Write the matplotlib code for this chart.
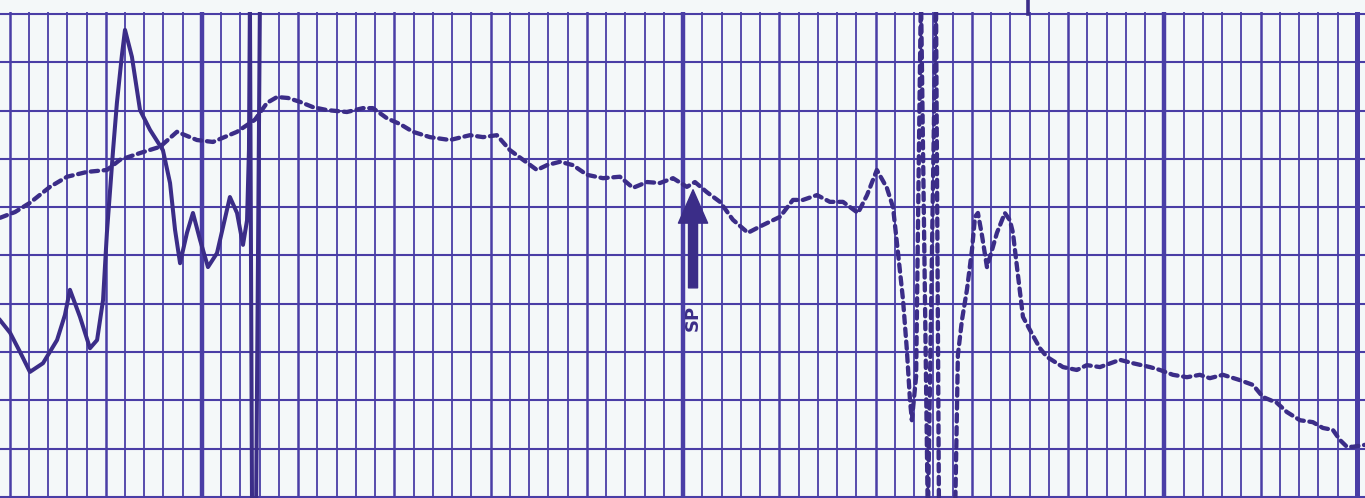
import numpy as np
import matplotlib
matplotlib.use("Agg")
import matplotlib.pyplot as plt

# dashed trace (x in small divisions, y in major rows), nan = pen break
fhr_x = [-0.49, 0.29, 1.06, 2.10, 2.99, 4.03, 5.06, 5.74, 6.78, 7.82, 8.70, 9.74,
         10.57, 11.82, 12.75, 13.38, 13.90, 14.47, 15.09, 15.77, 16.49, 17.53, 18.36,
         18.88, 19.61, 20.29, 20.96, 21.84, 22.88, 23.92, 24.60, 25.32, 26.00, 26.68,
         27.40, 27.92, 28.60, 29.27, 30.00, 30.83, 31.71, 32.39, 33.12, 33.79, 34.47,
         35.19, 35.61, 36.23, 36.91, 37.58, 38.36, 39.14, 40.03, 40.70, 41.22, 41.95,
         42.62, 43.30, 44.08, 44.55, 45.06, 45.58, 45.90, 46.16, 46.42, 46.62, 46.78,
         46.88, 47.10, 47.35, 47.71, 48.13, 48.29, np.nan,
         49.12, 49.27, 49.48, 49.74, 50.00, 50.16, 50.31, 50.52, 50.78, 51.04, 51.30,
         51.71, 51.97, 52.13, 52.34, 52.65, 53.01, 53.53, 53.90, 54.73, 55.45, 55.97,
         56.65, 57.69, 58.36, 59.25, 59.77, 60.44, 61.17, 61.84, 62.36, 63.04, 63.92,
         64.60, 65.12, 65.84, 66.36, 67.04, 67.71, 68.23, 68.75, 69.12, 69.48, 69.79,
         70.42]
fhr_y = [5.78, 5.90, 6.09, 6.42, 6.63, 6.73, 6.77, 6.98, 7.12, 7.25, 7.56, 7.39,
         7.35, 7.56, 7.81, 8.16, 8.28, 8.26, 8.18, 8.07, 8.01, 7.97, 8.05,
         8.05, 7.84, 7.72, 7.56, 7.45, 7.39, 7.49, 7.45, 7.49, 7.18, 6.98,
         6.77, 6.87, 6.94, 6.87, 6.67, 6.60, 6.63, 6.40, 6.52, 6.50, 6.60,
         6.42, 6.52, 6.31, 6.11, 5.74, 5.47, 5.63, 5.80, 6.15, 6.15, 6.25,
         6.11, 6.11, 5.88, 6.25, 6.77, 6.40, 6.00, 5.05, 4.08, 3.04, 2.01,
         1.59, 2.50, 10.5, -0.5, 10.5, -0.5, np.nan,
         -0.5, 2.94, 3.66, 4.29, 5.11, 5.80, 5.88, 5.42, 4.76, 5.11, 5.47,
         5.88, 5.73, 5.47, 4.76, 3.73, 3.46, 3.08, 2.90, 2.69, 2.63, 2.73,
         2.69, 2.84, 2.77, 2.69, 2.63, 2.53, 2.48, 2.53, 2.46, 2.53, 2.42,
         2.32, 2.07, 1.95, 1.76, 1.59, 1.55, 1.43, 1.39, 1.18, 1.04, 1.04,
         1.08]

# solid trace
toco_x = [-0.49, 0.03, 0.55, 1.06, 1.74, 2.47, 2.88, 3.14, 3.66, 4.18, 4.55, 4.86,
          5.06, 5.38, 5.58, 5.84, 6.00, 6.36, 6.78, 7.30, 7.97, 8.34, 8.60, 8.86,
          9.22, 9.53, 9.90, 10.31, 10.78, 11.45, 11.82, 12.13, 12.34, 12.44, 12.49,
          12.60, 12.81, 12.91, 13.01]
toco_y = [3.66, 3.40, 3.00, 2.59, 2.77, 3.25, 3.77, 4.29, 3.73, 3.08, 3.25, 4.08,
          5.47, 7.18, 8.16, 9.15, 9.67, 9.11, 8.01, 7.60, 7.18, 6.50, 5.53, 4.84,
          5.47, 5.88, 5.32, 4.76, 5.05, 6.21, 5.88, 5.22, 5.73, 7.18, 10.3,
          -0.3, -0.3, 5.0, 10.3]

sp_label = "SP"
sp_x = 35.51
sp_tail, sp_tip = 4.33, 6.36
sp_text_y = 3.71
top_mark_x = 52.91

grid_col = "#4a3ea6"
ink = "#3b2d88"
paper = "#f4f8f9"

fig = plt.figure(figsize=(13.65, 4.98), dpi=100, facecolor=paper)
ax = fig.add_axes([0, 0, 1, 486 / 498])
ax.set_facecolor(paper)
ax.set_xlim(-0.494, 70.42)
ax.set_ylim(-0.02, 10.04)
ax.axis("off")

# chart paper grid
for i in range(0, 71):
    if i % 25 == 10:
        lw = 3.2
    elif i % 5 == 0:
        lw = 1.8
    else:
        lw = 1.3
    if i == 70:
        lw = 3.6
    ax.axvline(i, color=grid_col, lw=lw, zorder=1)
for j in range(0, 11):
    ax.axhline(j, color=grid_col, lw=1.5, zorder=1)

ax.plot(fhr_x, fhr_y, color=ink, lw=3.1, dashes=(1.7, 1.3),
        dash_capstyle="round", zorder=3)
ax.plot(toco_x, toco_y, color=ink, lw=2.9, solid_joinstyle="round", zorder=3)

ax.annotate("", xy=(sp_x, sp_tip), xytext=(sp_x, sp_tail),
            arrowprops=dict(arrowstyle="simple,head_length=24,head_width=21,tail_width=6.5",
                            mutation_scale=1, color=ink, shrinkA=0, shrinkB=0),
            zorder=4)
ax.text(sp_x, sp_text_y, sp_label, rotation=90, ha="center", va="center",
        fontsize=13, fontweight="bold", color=ink, zorder=4)

ax.plot([top_mark_x, top_mark_x], [10.0, 10.3], color=ink, lw=2.6,
        clip_on=False, zorder=4)

fig.savefig("out.png", dpi=100, facecolor=paper)
